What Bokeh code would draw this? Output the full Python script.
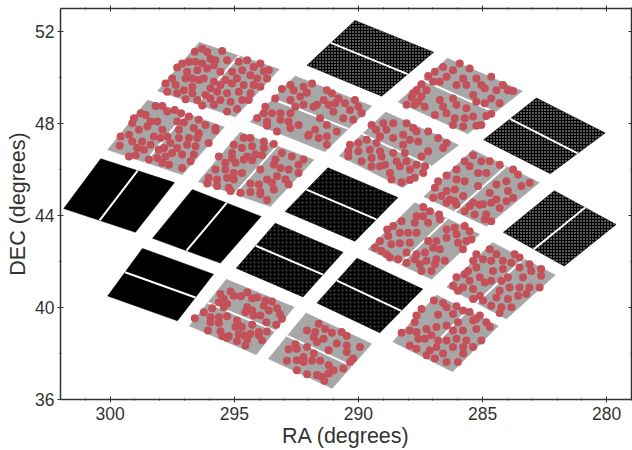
from bokeh.embed import file_html
from bokeh.resources import INLINE
from bokeh.plotting import figure
from bokeh.models import FixedTicker, LinearAxis, Range1d

RA_TICKS = [300, 295, 290, 285, 280]
RA_MINOR = [301, 299, 298, 297, 296, 294, 293, 292, 291, 289, 288, 287, 286, 284, 283, 282, 281, 279]
DEC_TICKS = [36, 40, 44, 48, 52]
DEC_MINOR = [38, 42, 46, 50]

# Corners of the red-dotted (gray) modules, (RA, DEC)
M1 = [(296.41, 51.53), (293.19, 50.36), (294.96, 48.28), (298.09, 49.41)]
M2 = [(298.49, 49.02), (295.40, 47.85), (297.09, 45.77), (300.10, 46.86)]
M3 = [(294.76, 47.63), (291.79, 46.42), (293.55, 44.39), (296.45, 45.47)]
M4 = [(294.36, 48.07), (292.55, 50.06), (289.46, 48.76), (291.35, 46.77)]
M6 = [(288.41, 48.93), (286.41, 50.84), (283.39, 49.41), (285.60, 47.55)]
M8 = [(290.78, 46.60), (288.90, 48.50), (285.96, 47.07), (288.21, 45.21)]
M9 = [(285.40, 46.86), (282.71, 45.43), (284.84, 43.53), (287.37, 44.82)]
M15 = [(296.81, 39.20), (295.32, 41.23), (292.59, 40.02), (294.12, 37.95)]
M16 = [(293.63, 37.77), (292.11, 39.76), (289.46, 38.42), (291.06, 36.48)]
M18 = [(287.73, 44.56), (285.12, 43.18), (287.05, 41.23), (289.62, 42.53)]
M19 = [(284.60, 42.83), (282.07, 41.41), (284.04, 39.50), (286.45, 40.89)]
M20 = [(286.85, 40.54), (284.36, 39.20), (286.21, 37.21), (288.62, 38.51)]
GRAY_MODULES = [M1, M2, M3, M4, M6, M8, M9, M15, M16, M18, M19, M20]

# Corners of the black (dense) modules
M5 = [(292.07, 50.53), (290.14, 52.48), (286.97, 51.10), (289.06, 49.19)]
M7 = [(284.96, 47.29), (282.83, 49.11), (280.06, 47.59), (282.27, 45.82)]
M21 = [(282.11, 45.08), (279.62, 43.61), (281.71, 41.80), (284.16, 43.27)]
M10 = [(292.95, 44.17), (291.23, 46.08), (288.41, 44.78), (290.14, 42.88)]
M13 = [(294.92, 41.71), (293.35, 43.66), (290.62, 42.40), (292.23, 40.46)]
M17 = [(291.67, 40.20), (290.06, 42.14), (287.41, 40.80), (289.14, 38.90)]
M11 = [(300.38, 46.47), (297.41, 45.43), (298.98, 43.27), (301.87, 44.30)]
M12 = [(296.69, 45.13), (293.92, 43.96), (295.56, 41.93), (298.29, 43.01)]
M14 = [(300.10, 40.50), (298.70, 42.57), (295.84, 41.45), (297.29, 39.42)]
SPARSE_MODULES = [M5, M7, M21]
MEDIUM_MODULES = [M10, M13, M17]
DENSE_MODULES = [M11, M12, M14]

# Planet candidate positions, (RA, DEC), by module
C1 = [(296.59,51.12),(296.29,51.25),(296.09,51.11),(295.49,51.15),(295.96,50.82),(295.76,50.75),(295.29,50.75),(294.48,50.75),(293.95,50.61),(293.61,50.32),(293.81,50.27),(294.22,50.46),(294.82,50.68),(294.68,50.32),(294.35,50.10),(294.08,49.96),(293.68,49.96),(297.10,50.61),(296.83,50.68),(296.56,50.68),(296.29,50.61),(296.09,50.39),(295.82,50.53),(297.30,50.43),(296.90,50.25),(296.49,50.32),(295.56,50.25),(295.09,50.25),(294.89,49.96),(295.35,49.89),(295.82,49.81),(297.50,49.96),(296.96,49.96),(296.69,49.96),(296.43,49.89),(296.23,49.96),(297.77,49.74),(297.36,49.67),(296.69,49.60),(295.96,49.53),(295.56,49.67),(295.09,49.74),(294.62,49.67),(294.22,49.67),(293.95,49.60),(297.70,49.38),(297.30,49.31),(297.03,49.45),(296.69,49.31),(295.69,49.38),(295.29,49.31),(294.82,49.38),(294.35,49.31),(296.16,49.24),(296.96,49.05),(296.49,49.02),(295.96,49.09),(295.56,49.02),(295.15,48.95),(294.68,49.02),(296.29,48.78),(295.82,48.81),(295.29,48.52),(294.89,48.63),(294.42,49.02)]
C2 = [(299.04,48.23),(299.11,48.01),(299.58,47.44),(299.62,47.03),(299.24,47.51),(298.77,48.45),(298.57,48.37),(298.17,48.76),(297.90,48.76),(297.70,48.52),(297.40,48.59),(297.14,48.45),(298.37,48.09),(298.10,48.09),(298.84,47.73),(298.50,47.87),(297.90,47.73),(297.30,48.09),(296.83,48.30),(296.43,48.16),(297.03,48.04),(295.76,47.80),(296.16,47.94),(298.24,47.44),(297.97,47.37),(297.70,47.44),(297.23,47.73),(296.63,47.80),(296.43,47.58),(295.76,47.70),(298.71,47.22),(298.37,47.08),(299.11,47.22),(297.57,47.15),(297.23,47.37),(296.83,47.37),(296.49,47.37),(296.03,47.15),(298.91,46.93),(298.64,46.86),(299.24,46.57),(298.97,46.62),(298.44,46.43),(298.04,46.86),(297.83,46.93),(297.30,46.93),(296.90,47.08),(296.56,47.01),(298.10,46.50),(297.77,46.57),(297.50,46.72),(297.10,46.65),(296.63,46.65),(297.63,46.21),(297.10,46.07),(296.76,46.36),(297.90,46.29)]
C3 = [(295.02,47.08),(294.62,47.37),(294.35,47.37),(293.81,47.22),(293.41,47.11),(295.09,46.72),(294.69,46.93),(294.28,47.01),(293.81,46.93),(295.62,46.57),(295.09,46.50),(294.48,46.57),(294.15,46.65),(293.88,46.62),(295.36,46.29),(294.95,46.29),(294.28,46.40),(294.62,46.43),(293.34,46.43),(293.08,46.72),(292.68,46.57),(292.41,46.21),(292.21,46.43),(295.76,46.00),(295.36,46.00),(295.02,45.85),(294.69,45.85),(293.95,46.00),(293.41,46.21),(293.14,46.07),(292.81,46.00),(292.41,45.85),(296.03,45.64),(295.69,45.57),(295.29,45.64),(295.02,45.57),(293.68,45.57),(293.28,45.71),(292.94,45.57),(292.81,45.35),(296.09,45.39),(295.69,45.28),(295.22,45.21),(295.15,45.06),(294.35,45.39),(294.01,45.35),(294.75,44.99),(294.35,45.02),(293.95,45.02),(293.41,45.13),(293.68,44.67),(293.95,44.92),(293.48,45.42)]
C4 = [(291.87,49.74),(293.08,49.50),(292.74,49.67),(292.61,49.45),(292.21,49.60),(292.07,49.34),(293.35,49.09),(292.34,49.17),(292.74,49.02),(291.27,49.45),(291.07,49.31),(291.40,49.02),(291.67,48.81),(291.20,48.81),(290.93,48.88),(290.80,49.09),(292.54,48.73),(292.21,48.81),(293.75,48.73),(293.81,48.45),(293.48,48.45),(293.14,48.45),(292.74,48.45),(294.08,48.23),(293.68,48.09),(293.14,48.16),(292.81,48.09),(292.41,47.94),(291.74,47.73),(291.27,47.94),(293.68,47.90),(293.28,47.65),(292.74,47.80),(292.00,47.51),(291.27,47.44),(290.87,47.65),(291.60,47.37),(291.27,47.08),(290.54,48.88),(290.14,49.02),(290.00,48.73),(289.87,48.45),(290.34,48.59),(290.61,48.23),(290.21,48.16),(291.55,48.23),(291.01,48.52),(291.81,48.73),(292.02,47.47)]
C6 = [(285.92,50.61),(285.52,50.39),(286.59,50.46),(286.19,50.32),(286.92,50.25),(287.19,50.06),(286.99,49.81),(286.45,50.03),(285.78,49.96),(285.25,49.96),(284.65,50.03),(287.46,49.71),(286.72,49.81),(286.05,49.67),(285.65,49.67),(285.05,49.67),(284.18,49.67),(283.98,49.45),(283.77,49.41),(287.66,49.45),(287.26,49.45),(287.86,49.14),(287.46,49.17),(286.19,49.09),(286.72,49.02),(285.38,49.24),(284.91,49.53),(284.65,49.09),(284.31,48.88),(288.06,48.81),(287.73,48.81),(287.33,48.73),(286.59,48.73),(286.05,48.81),(285.65,48.66),(285.25,48.95),(284.91,48.88),(286.92,48.37),(286.45,48.45),(286.12,48.23),(285.72,48.23),(285.38,48.30),(284.85,48.33),(284.65,48.42),(286.19,47.94),(285.78,47.87),(285.25,47.90),(285.05,47.94),(287.79,49.31),(287.59,48.95),(284.44,49.45)]
C8 = [(289.47,47.94),(289.00,48.01),(288.60,48.01),(288.06,48.01),(287.79,47.80),(289.29,47.73),(288.87,47.73),(287.66,47.65),(287.19,47.65),(286.79,47.37),(289.13,47.44),(288.60,47.37),(288.20,47.51),(287.93,47.29),(287.59,47.22),(286.45,47.15),(290.34,47.08),(290.00,47.15),(289.67,47.29),(289.27,47.15),(288.20,47.08),(286.59,46.93),(287.19,46.79),(287.46,46.57),(290.41,46.79),(290.00,46.79),(289.54,46.86),(289.13,46.79),(288.60,46.72),(288.13,46.72),(290.41,46.57),(289.87,46.36),(289.47,46.50),(289.07,46.57),(288.46,46.36),(288.06,46.36),(287.66,46.21),(287.32,46.14),(288.93,46.21),(289.47,46.14),(289.13,46.14),(288.33,46.14),(287.93,46.00),(288.73,45.85),(287.39,45.85),(288.67,45.57),(288.26,45.45),(287.93,45.54),(287.73,45.64)]
C9 = [(285.38,46.62),(285.72,46.36),(285.05,46.36),(284.71,46.36),(284.31,46.21),(286.05,46.00),(285.52,46.14),(285.18,45.85),(284.85,45.85),(286.45,45.74),(286.05,45.57),(285.72,45.49),(283.77,46.00),(283.57,45.78),(283.10,45.42),(283.44,45.28),(284.04,45.49),(284.44,45.35),(286.79,45.49),(286.92,45.21),(286.45,45.06),(286.12,45.13),(286.66,44.85),(286.32,44.70),(286.12,44.63),(286.99,44.77),(285.78,44.85),(285.18,45.28),(284.71,44.99),(283.98,45.06),(284.44,44.70),(285.38,44.56),(284.98,44.49),(283.77,44.77),(286.45,44.55),(286.05,44.47),(285.52,44.40),(285.12,44.47),(284.65,44.55),(284.04,44.62),(284.31,44.33),(285.72,44.19),(285.32,44.04),(284.85,44.04),(284.65,43.75),(284.91,43.83)]
C15 = [(295.15,40.70),(295.56,40.59),(295.42,40.37),(295.02,40.51),(295.62,40.23),(295.29,40.15),(295.42,40.01),(294.48,40.66),(294.28,40.40),(294.08,40.44),(294.73,40.49),(293.75,40.30),(293.48,40.26),(293.81,40.08),(294.48,40.01),(293.28,39.97),(293.17,39.72),(293.08,39.51),(293.61,39.87),(294.28,39.87),(294.55,39.79),(293.95,39.65),(294.22,39.65),(295.89,39.97),(296.23,39.79),(295.96,39.58),(295.29,39.62),(295.62,39.58),(294.89,39.43),(295.96,39.36),(294.82,39.22),(294.28,39.25),(293.71,39.36),(293.31,39.25),(296.59,39.53),(295.62,39.33),(296.06,39.00),(295.56,38.97),(294.95,39.15),(294.69,39.15),(293.68,38.96),(294.01,38.93),(295.49,38.76),(295.22,38.76),(294.35,38.86),(294.82,38.83),(294.62,38.79),(294.01,38.79),(293.88,38.57),(294.48,38.61),(294.89,38.53),(294.55,38.35),(295.29,38.67)]
C16 = [(291.60,39.29),(292.07,39.00),(291.74,38.93),(291.34,39.07),(291.07,38.90),(291.80,38.71),(291.40,38.64),(291.67,38.50),(290.87,38.43),(291.20,38.14),(292.81,38.18),(292.48,38.21),(292.54,38.40),(292.07,38.28),(291.80,38.00),(292.21,37.85),(292.88,37.68),(292.48,37.71),(291.87,37.68),(291.54,37.68),(292.21,37.63),(291.20,37.49),(291.00,37.27),(292.48,37.27),(292.07,37.10),(291.67,37.06),(291.47,36.99),(291.37,36.81),(291.20,37.13),(290.68,38.93),(290.47,38.76),(290.47,38.35),(289.94,38.28),(290.47,38.07),(290.21,37.78),(290.34,37.63),(290.61,37.35)]
C18 = [(287.39,44.37),(287.12,44.19),(286.75,44.04),(287.66,43.97),(287.39,43.97),(287.73,43.68),(287.19,43.68),(288.60,43.54),(288.26,43.75),(288.84,43.39),(288.33,43.25),(288.00,43.25),(287.66,43.25),(286.72,43.83),(286.45,43.39),(286.12,43.47),(285.72,43.54),(285.52,43.32),(286.05,43.18),(285.45,42.96),(285.65,42.89),(288.80,43.11),(289.13,42.89),(288.33,42.79),(288.67,42.75),(289.33,42.60),(289.07,42.46),(288.87,42.31),(287.93,42.82),(287.19,42.89),(286.86,42.89),(286.45,43.03),(285.99,42.82),(286.99,42.60),(287.66,42.31),(287.32,42.39),(286.72,42.53),(288.06,42.39),(285.79,42.53),(288.73,42.17),(288.40,42.10),(287.73,42.10),(287.26,42.03),(286.86,42.10),(286.52,42.03),(288.06,41.95),(287.53,41.88),(286.92,41.88),(287.46,41.59),(287.06,41.59)]
C19 = [(284.71,42.53),(284.44,42.31),(285.25,42.31),(284.98,42.10),(285.38,42.03),(284.65,42.03),(284.18,42.03),(283.71,42.31),(283.51,42.17),(283.51,41.74),(283.11,41.88),(282.64,41.67),(283.04,41.59),(282.64,41.38),(284.18,41.67),(283.84,41.95),(285.58,41.59),(285.25,41.74),(284.58,41.59),(285.72,41.45),(285.11,41.31),(284.65,41.16),(284.24,41.16),(283.98,41.31),(283.37,41.31),(282.70,40.87),(286.05,41.31),(285.52,41.16),(283.51,40.87),(283.11,40.87),(286.19,40.95),(285.79,40.87),(285.38,40.80),(284.91,41.09),(284.31,40.73),(283.91,40.87),(285.99,40.73),(285.11,40.51),(284.44,40.44),(283.98,40.37),(283.24,40.59),(283.57,40.51),(285.38,40.37),(284.65,40.08),(284.24,40.01),(283.84,40.01),(284.31,39.76),(284.98,40.30)]
C20 = [(286.96,40.30),(286.59,40.20),(286.45,40.01),(286.05,40.05),(285.78,39.87),(285.52,39.80),(287.46,39.94),(287.66,39.65),(286.79,39.69),(286.19,39.72),(285.11,39.65),(284.85,39.36),(287.73,39.36),(287.26,39.07),(286.86,39.15),(286.45,39.22),(285.99,39.36),(285.38,39.43),(285.25,39.51),(284.71,39.15),(288.26,38.90),(287.93,39.00),(287.66,38.93),(287.06,38.79),(286.19,39.00),(285.79,39.00),(285.25,39.07),(287.59,38.64),(287.32,38.64),(286.79,38.57),(286.45,38.57),(286.05,38.64),(285.65,38.57),(285.05,38.57),(287.93,38.35),(287.66,38.21),(287.12,38.14),(286.86,38.28),(286.19,38.28),(285.78,38.28),(285.38,38.28),(287.26,37.92),(286.92,37.78),(286.59,38.00),(285.78,38.00),(286.45,37.63),(285.99,37.63)]
CANDIDATES = C1 + C2 + C3 + C4 + C6 + C8 + C9 + C15 + C16 + C18 + C19 + C20

GRAY = "#a7a7a7"
RED = "#c4505a"
INK = "#333333"
FONT = "Liberation Sans"

p = figure(width=632, height=450, output_backend="svg",
           toolbar_location=None, x_range=Range1d(302, 279), y_range=Range1d(36, 53),
           x_axis_label="RA (degrees)", y_axis_label="DEC (degrees)",
           min_border_left=60, min_border_right=1, min_border_top=8, min_border_bottom=49)
p.grid.visible = False
p.outline_line_color = None
p.background_fill_color = "white"
p.border_fill_color = "white"


def xs(mods):
    return [[c[0] for c in m] for m in mods]


def ys(mods):
    return [[c[1] for c in m] for m in mods]


def draw_gaps(mods):
    gx, gy = [], []
    for m in mods:
        gx.append([(m[0][0] + m[1][0]) / 2, (m[2][0] + m[3][0]) / 2])
        gy.append([(m[0][1] + m[1][1]) / 2, (m[2][1] + m[3][1]) / 2])
    p.multi_line(gx, gy, line_color="white", line_width=2)


p.patches(xs(GRAY_MODULES), ys(GRAY_MODULES), fill_color=GRAY, line_color=GRAY, line_width=0.5)
p.patches(xs(DENSE_MODULES), ys(DENSE_MODULES), fill_color="black", line_color="black", line_width=0.5)
p.patches(xs(MEDIUM_MODULES), ys(MEDIUM_MODULES), fill_color="black", line_color="black", line_width=0.5,
          hatch_pattern="dot", hatch_color="white", hatch_alpha=0.3, hatch_scale=4, hatch_weight=0.7)
p.patches(xs(SPARSE_MODULES), ys(SPARSE_MODULES), fill_color="black", line_color="black", line_width=0.5,
          hatch_pattern="dot", hatch_color="white", hatch_alpha=0.85, hatch_scale=3, hatch_weight=1.1)
draw_gaps(GRAY_MODULES + DENSE_MODULES + MEDIUM_MODULES + SPARSE_MODULES)

p.scatter([c[0] for c in CANDIDATES], [c[1] for c in CANDIDATES], size=8, marker="circle",
          fill_color=RED, line_color=None)


def style_axis(a, tick_in, tick_out):
    a.axis_line_color = INK
    a.axis_line_width = 1.5
    a.major_tick_line_color = INK
    a.minor_tick_line_color = INK
    a.major_tick_line_width = 1
    a.minor_tick_line_width = 1
    a.major_tick_in = tick_in
    a.major_tick_out = tick_out
    a.minor_tick_in = 1
    a.minor_tick_out = 1 if tick_out else 0
    a.major_label_text_font = FONT
    a.major_label_text_font_size = "17.5px"
    a.major_label_text_color = INK
    a.axis_label_text_font = FONT
    a.axis_label_text_font_size = "21.5px"
    a.axis_label_text_font_style = "normal"
    a.axis_label_text_color = INK


ra_ticker = FixedTicker(ticks=RA_TICKS, minor_ticks=RA_MINOR)
dec_ticker = FixedTicker(ticks=DEC_TICKS, minor_ticks=DEC_MINOR)

bx = p.xaxis[0]
by = p.yaxis[0]
bx.ticker = ra_ticker
by.ticker = dec_ticker
style_axis(bx, 3, 3)
style_axis(by, 3, 3)
bx.major_label_standoff = 4
by.major_label_standoff = 3
bx.axis_label_standoff = 1
by.axis_label_standoff = 2

top = LinearAxis(ticker=ra_ticker)
right = LinearAxis(ticker=dec_ticker)
style_axis(top, 3, 3)
style_axis(right, 3, 0)
for a in (top, right):
    a.major_label_text_font_size = "0px"
    a.major_label_standoff = 0
    a.major_label_text_color = None
p.add_layout(top, "above")
p.add_layout(right, "right")

open("out.html", "w").write(file_html(p, INLINE))
